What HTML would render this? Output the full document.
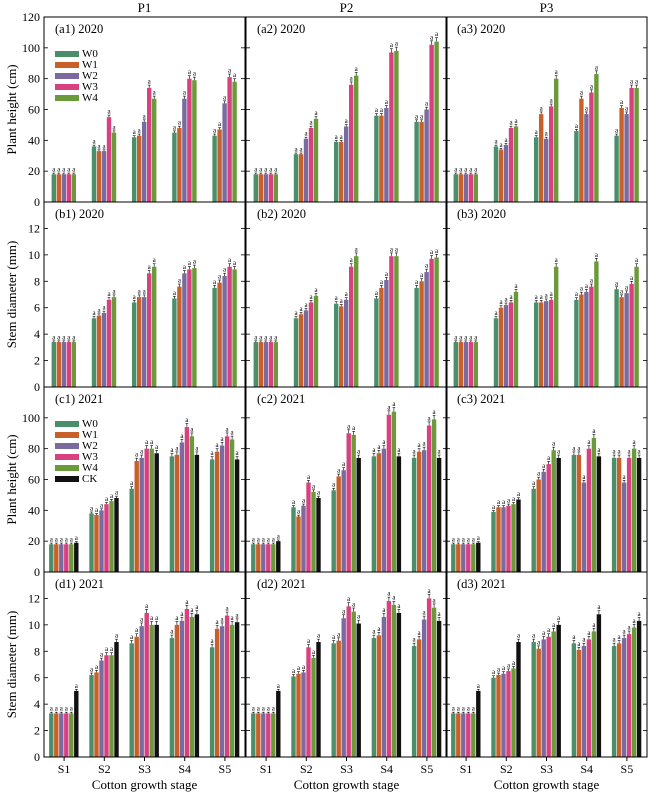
<!DOCTYPE html>
<html><head><meta charset="utf-8">
<style>
html,body{margin:0;padding:0;background:#fff;}
svg{display:block;font-family:"Liberation Serif",serif;}
</style></head>
<body>
<svg id="s" width="650" height="794" xmlns="http://www.w3.org/2000/svg"></svg>
<script>
const C=["#4a8f6a","#c8602a","#7a6aa0","#d9407f","#6a9a3a","#111111"];
const cols=[44,246,446],W=201,rows=[17,202,387,572],H=185;
const D={
a:[[[18,18,18,18,18],[36,33,33,55,45],[42,43,52,74,67],[45,48,67,80,79],[43,47,64,81,78]],
[[18,18,18,18,18],[31,31,41,48,54],[39,39,49,76,82],[56,56,61,97,98],[52,52,60,102,104]],
[[18,18,18,18,18],[36,34,37,48,49],[42,57,41,62,80],[46,67,57,71,83],[43,61,57,74,74]]],
b:[[[3.4,3.4,3.4,3.4,3.4],[5.2,5.4,5.6,6.6,6.8],[6.4,6.8,6.8,8.6,9.1],[6.7,7.6,8.6,8.9,9.0],[7.5,7.9,8.4,9.1,8.9]],
[[3.4,3.4,3.4,3.4,3.4],[5.2,5.5,5.8,6.4,6.9],[6.3,6.1,6.6,9.1,9.9],[6.7,7.5,8.1,9.9,9.9],[7.5,8.0,8.7,9.7,9.8]],
[[3.4,3.4,3.4,3.4,3.4],[5.2,6.0,6.2,6.4,7.2],[6.4,6.4,6.5,6.6,9.1],[6.6,7.0,7.2,7.6,9.5],[7.4,6.8,7.1,7.8,9.1]]],
c:[[[18,18,18,18,18,19],[38,37,40,44,46,48],[54,72,74,80,80,77],[75,76,84,94,88,76],[73,78,82,88,86,73]],
[[18,18,18,18,18,20],[42,36,43,58,52,48],[53,62,66,90,89,74],[75,77,80,102,104,75],[74,78,79,95,99,74]],
[[18,18,18,18,18,19],[39,42,42,43,44,47],[54,60,65,70,79,74],[76,76,58,80,87,75],[74,74,58,74,80,74]]],
d:[[[3.3,3.3,3.3,3.3,3.3,5.0],[6.2,6.4,7.3,7.7,7.7,8.7],[8.6,9.1,9.9,10.9,10.0,10.0],[9.0,10.0,10.3,11.2,10.6,10.8],[8.3,9.7,9.9,10.7,10.0,10.2]],
[[3.3,3.3,3.3,3.3,3.3,5.0],[6.1,6.3,6.4,8.3,7.5,8.7],[8.6,8.8,10.5,11.4,11.0,10.1],[9.0,9.2,10.6,11.8,11.5,10.9],[8.4,8.9,10.4,12.0,11.3,10.3]],
[[3.3,3.3,3.3,3.3,3.3,5.0],[6.0,6.2,6.3,6.5,6.7,8.7],[8.7,8.2,8.9,9.1,9.5,10.0],[8.6,8.1,8.4,8.9,9.5,10.8],[8.4,8.6,9.0,9.3,9.8,10.3]]]};
const keys=["a","b","c","d"],max=[120,14,120,14],step=[20,2,20,2];
const yr=["2020","2020","2021","2021"];
let o="";
["P1","P2","P3"].forEach((p,i)=>o+=`<text x="${cols[i]+W/2}" y="12" font-size="13" text-anchor="middle">${p}</text>`);
keys.forEach((k,r)=>{
 const top=rows[r],bot=top+H,sc=H/max[r];
 cols.forEach((x0,c)=>{
  const data=D[k][c];
  data.forEach((g,si)=>{
   const cx=x0+W/10+si*W/5,n=g.length,bw=5,gx=cx-n*bw/2;
   g.forEach((v,j)=>{
    const h=v*sc,x=gx+j*bw;
    o+=`<rect x="${x}" y="${bot-h}" width="${bw-0.6}" height="${h}" fill="${C[j]}"/>`;
    const e=Math.max(1.2,h*0.025);
    o+=`<line x1="${x+2.2}" x2="${x+2.2}" y1="${bot-h-e}" y2="${bot-h}" stroke="#000" stroke-width="0.6"/><line x1="${x+0.8}" x2="${x+3.6}" y1="${bot-h-e}" y2="${bot-h-e}" stroke="#000" stroke-width="0.6"/>`;
    o+=`<text x="${x+2.2}" y="${bot-h-e-1.5}" font-size="7" text-anchor="middle">a</text>`;
   });
   if(r==3){o+=`<line x1="${cx}" x2="${cx}" y1="${bot}" y2="${bot+4}" stroke="#000"/><text x="${cx}" y="${bot+16}" font-size="12" text-anchor="middle">S${si+1}</text>`;}
  });
  o+=`<rect x="${x0}" y="${top}" width="${W}" height="${H}" fill="none" stroke="#000" stroke-width="1"/>`;
  for(let v=0;v<=max[r];v+=step[r]){
   const y=bot-v*sc;
   if(v>0&&v<max[r]){o+=`<line x1="${x0}" x2="${x0+4}" y1="${y}" y2="${y}" stroke="#000" stroke-width="0.8"/><line x1="${x0+W}" x2="${x0+W-4}" y1="${y}" y2="${y}" stroke="#000" stroke-width="0.8"/>`;}
   if(c==0){ if(v<max[r]||r==0) o+=`<text x="${x0-4}" y="${y+4}" font-size="12" text-anchor="end">${v}</text>`;}
  }
  o+=`<text x="${x0+11}" y="${top+16}" font-size="12.5">(${k}${c+1}) ${yr[r]}</text>`;
 });
 const lab=(r%2==0)?"Plant height (cm)":"Stem diameter (mm)";
 o+=`<text transform="translate(16,${top+H/2}) rotate(-90)" font-size="13" text-anchor="middle">${lab}</text>`;
});
[[0,5],[2,6]].forEach(([r,n])=>{
 const names=["W0","W1","W2","W3","W4","CK"];
 for(let j=0;j<n;j++){const y=rows[r]+34+j*11;
  o+=`<rect x="55" y="${y}" width="24" height="6" fill="${C[j]}"/><text x="82" y="${y+6}" font-size="11">${names[j]}</text>`;}
});
cols.forEach(x0=>o+=`<text x="${x0+W/2}" y="789" font-size="13" text-anchor="middle">Cotton growth stage</text>`);
document.getElementById("s").innerHTML=o;
</script>
</body></html>
